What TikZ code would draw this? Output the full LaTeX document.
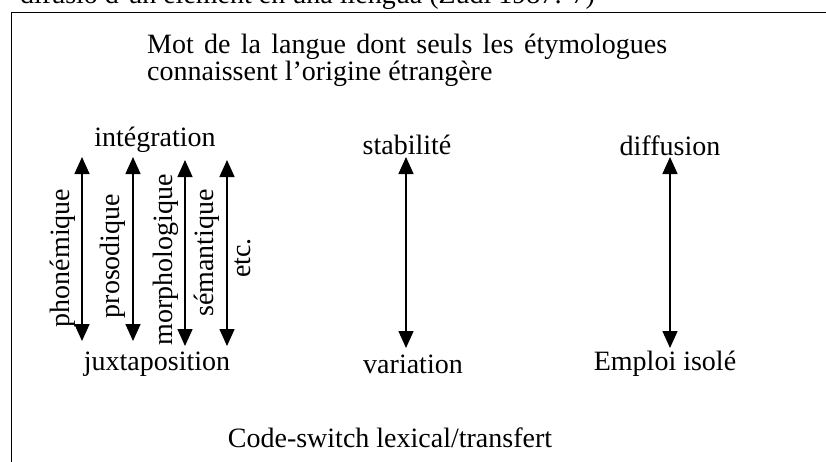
\documentclass[tikz,border=0pt]{standalone}
\usepackage{fontspec}
\setmainfont{Liberation Serif}
\usetikzlibrary{arrows.meta}
\begin{document}
\begin{tikzpicture}[x=1pt,y=-1pt,
  lbl/.style={inner sep=0pt, font=\fontsize{28}{27}\selectfont},
  rlbl/.style={lbl, rotate=90},
  dbl/.style={line width=1.5pt, {Triangle[width=15pt,length=17pt]}-{Triangle[width=15pt,length=17pt]}}]
\useasboundingbox (0,0) rectangle (826,461);
\begin{scope}
\clip (0,0) rectangle (826,461);
\node[lbl, anchor=base west] (cap) at (20,3) {difusió d’un element en una llengua (Zudi 1987: 7)};
\draw[line width=1.5pt] (11.5,12.5) rectangle (860,480);
\end{scope}
\node[lbl, anchor=north west, text width=520pt, align=justify] (mot) at (147,34)
  {Mot de la langue dont seuls les étymologues \mbox{connaissent} l’origine étrangère};
\node[lbl] (integ) at (155,140) {intégration};
\node[lbl] (juxt) at (157,364) {juxtaposition};
\node[lbl] (stab) at (407,145) {stabilité};
\node[lbl] (var) at (413,364) {variation};
\node[lbl] (diff) at (670,146) {diffusion};
\node[lbl] (empl) at (665,364) {Emploi isolé};
\node[lbl] (cs) at (390,438) {Code-switch lexical/transfert};
\node[rlbl] (phon) at (63,258) {phonémique};
\node[rlbl] (pros) at (113,256) {prosodique};
\node[rlbl] (morph) at (166,260) {morphologique};
\node[rlbl] (sem) at (207,253) {sémantique};
\node[rlbl] (etc) at (243,258) {etc.};
\coordinate (a1t) at (82,157); \coordinate (a1b) at (82,341);
\coordinate (a2t) at (133,157); \coordinate (a2b) at (133,341);
\coordinate (a3t) at (185,160); \coordinate (a3b) at (185,346);
\coordinate (a4t) at (227,160); \coordinate (a4b) at (227,346);
\coordinate (s1) at (406,157); \coordinate (s2) at (406,348);
\coordinate (d1) at (670,157); \coordinate (d2) at (670,348);
\draw[dbl] (a1t) -- (a1b);
\draw[dbl] (a2t) -- (a2b);
\draw[dbl] (a3t) -- (a3b);
\draw[dbl] (a4t) -- (a4b);
\draw[dbl] (s1) -- (s2);
\draw[dbl] (d1) -- (d2);
\end{tikzpicture}
\end{document}
